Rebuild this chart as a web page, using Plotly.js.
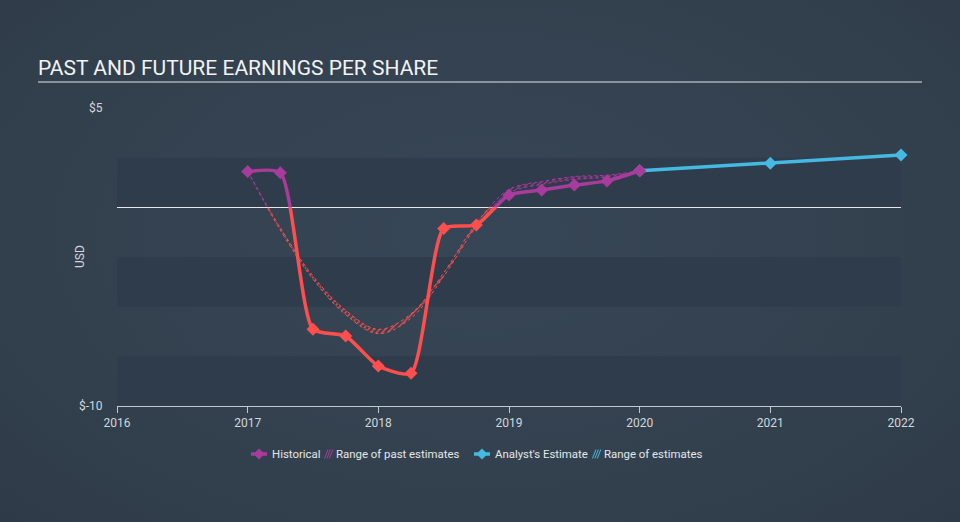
<!DOCTYPE html>
<html>
<head>
<meta charset="utf-8">
<script src="https://cdn.plot.ly/plotly-3.0.1.min.js"></script>
<style>
    html, body { margin: 0; padding: 0; }
    body {
        width: 960px; height: 522px; overflow: hidden;
        background: radial-gradient(ellipse at 50% 45%, #374656 0%, #33414f 60%, #2e3a47 100%);
    }
    #chart { width: 960px; height: 522px; }
</style>
</head>
<body>
<div id="chart"></div>
<script>
// earnings per share, quarterly history (USD)
const hist_x = [2017, 2017.25, 2017.5, 2017.75, 2018, 2018.25, 2018.5, 2018.75, 2019, 2019.25, 2019.5, 2019.75, 2020];
const hist_y = [1.80, 1.74, -6.14, -6.48, -7.99, -8.35, -1.06, -0.89, 0.62, 0.87, 1.12, 1.33, 1.84];

// range of past analyst estimates (low / high)
const past_est_x    = [2017, 2017.25, 2017.5, 2017.75, 2018, 2018.25, 2018.5, 2018.75, 2019, 2019.25, 2019.5, 2019.75, 2020];
const past_est_low  = [1.80, -1.15, -3.62, -5.40, -6.36, -5.58, -3.48, -0.98, 0.72, 1.15, 1.40, 1.52, 1.80];
const past_est_high = [1.83, -1.03, -3.46, -5.18, -6.14, -5.36, -3.30, -0.80, 0.90, 1.30, 1.55, 1.62, 1.84];

// analyst estimate going forward
const fc_x    = [2020, 2021, 2022];
const fc_y    = [1.84, 2.22, 2.63];
const fc_low  = [1.84, 2.22, 2.63];
const fc_high = [1.84, 2.22, 2.63];

const years      = [2016, 2017, 2018, 2019, 2020, 2021, 2022];
const year_ticks = ["2016", "2017", "2018", "2019", "2020", "2021", "2022"];
const y_ticks    = [5, -10];
const y_labels   = ["$5", "$-10"];

const legend_labels = ["Historical", "Range of past estimates", "Analyst's Estimate", "Range of estimates"];

const COL = {
    purple: "#a93b9c",
    red: "#ff4e4e",
    blue: "#45b9e2",
    band: "#2f3c4b",
    text: "#d3d7dc",
};

const Y_MIN = -10, Y_MAX = 5;
const ZERO = (0 - Y_MIN) / (Y_MAX - Y_MIN); // zero position inside the plot

let traces = [];

// past estimate band, split at zero: y2 = positive half, y3 = negative half
function add_past_range(axis, color){
    traces.push({
        type: "scatter", mode: "lines", x: past_est_x, y: past_est_low, yaxis: axis,
        line: { color: color, width: 1, dash: "dot", shape: "spline", smoothing: 1 },
        hoverinfo: "skip",
    });
    traces.push({
        type: "scatter", mode: "lines", x: past_est_x, y: past_est_high, yaxis: axis,
        line: { color: color, width: 1, dash: "dot", shape: "spline", smoothing: 1 },
        fill: "tonexty", fillcolor: "rgba(0,0,0,0)",
        fillpattern: { shape: "/", fgcolor: color, size: 4, solidity: 0.3 },
        hoverinfo: "skip",
    });
}

function add_history(axis, color){
    traces.push({
        type: "scatter", mode: "lines+markers", x: hist_x, y: hist_y, yaxis: axis,
        line: { color: color, width: 3.5, shape: "spline", smoothing: 0.6 },
        marker: { color: color, symbol: "diamond", size: 10 },
    });
}

add_past_range("y3", COL.red);
add_past_range("y2", COL.purple);
add_history("y3", COL.red);
add_history("y2", COL.purple);

traces.push({
    type: "scatter", mode: "lines", x: fc_x, y: fc_low,
    line: { color: COL.blue, width: 1, dash: "dot" }, hoverinfo: "skip",
});
traces.push({
    type: "scatter", mode: "lines", x: fc_x, y: fc_high,
    line: { color: COL.blue, width: 1, dash: "dot" },
    fill: "tonexty", fillcolor: "rgba(0,0,0,0)",
    fillpattern: { shape: "/", fgcolor: COL.blue, size: 4, solidity: 0.3 },
    hoverinfo: "skip",
});
traces.push({
    type: "scatter", mode: "lines+markers", x: fc_x, y: fc_y,
    line: { color: COL.blue, width: 3.5 },
    marker: { color: COL.blue, symbol: "diamond", size: 10 },
    cliponaxis: false,
});

// plot area in pixels (for shapes placed outside of it)
const L = 117, R = 59, T = 108, B = 116, W = 960, H = 522;
const PW = W - L - R, PH = H - T - B;
const px = (p) => (p - L) / PW;
const py = (p) => (H - B - p) / PH;

let shapes = [];
for(const b of [[0, 2.5], [-5, -2.5], [-10, -7.5]]){
    shapes.push({
        type: "rect", xref: "x", yref: "y", x0: 2016, x1: 2022, y0: b[0], y1: b[1],
        fillcolor: COL.band, line: { width: 0 }, layer: "below",
    });
}
shapes.push({
    type: "line", xref: "paper", yref: "paper", x0: px(38), x1: px(922), y0: py(82), y1: py(82),
    line: { color: "#a9afb6", width: 1.5 },
});

let annotations = [{
    text: "USD", textangle: -90, showarrow: false,
    xref: "paper", yref: "paper", x: px(80), y: 0.5, xanchor: "center", yanchor: "middle",
    font: { size: 12, color: COL.text },
}];

// hand made legend, so the icons stay as short as in the original
const LEG_Y = 454;

function legend_marker(x0, x1, color){
    const cx = (x0 + x1) / 2;
    shapes.push({
        type: "line", xref: "paper", yref: "paper", x0: px(x0), x1: px(x1), y0: py(LEG_Y), y1: py(LEG_Y),
        line: { color: color, width: 3.5 },
    });
    const d = "M" + px(cx - 5.5) + "," + py(LEG_Y) + " L" + px(cx) + "," + py(LEG_Y - 5.5) +
              " L" + px(cx + 5.5) + "," + py(LEG_Y) + " L" + px(cx) + "," + py(LEG_Y + 5.5) + " Z";
    shapes.push({ type: "path", xref: "paper", yref: "paper", path: d, fillcolor: color, line: { width: 0 } });
}

function legend_hatch(x0, color){
    for(let i = 0; i < 3; i++){
        const a = x0 + i * 2.4;
        shapes.push({
            type: "line", xref: "paper", yref: "paper",
            x0: px(a), x1: px(a + 3.5), y0: py(LEG_Y + 4.5), y1: py(LEG_Y - 4.5),
            line: { color: color, width: 1 },
        });
    }
}

function legend_text(x, text){
    annotations.push({
        text: text, showarrow: false, xref: "paper", yref: "paper",
        x: px(x), y: py(LEG_Y), xanchor: "left", yanchor: "middle",
        font: { size: 11.4, color: "#e4e7ea" },
    });
}

legend_marker(251, 267, COL.purple);
legend_text(270, legend_labels[0]);
legend_hatch(324.5, COL.purple);
legend_text(334, legend_labels[1]);
legend_marker(474, 490, COL.blue);
legend_text(493, legend_labels[2]);
legend_hatch(592.5, COL.blue);
legend_text(602, legend_labels[3]);

const hidden_axis = { visible: false, showgrid: false, zeroline: false, fixedrange: true, anchor: "x" };

const layout = {
    width: W, height: H,
    margin: { l: L, r: R, t: T, b: B, pad: 0 },
    paper_bgcolor: "rgba(0,0,0,0)",
    plot_bgcolor: "rgba(0,0,0,0)",
    font: { family: "Roboto, 'Open Sans', sans-serif", color: COL.text, size: 12 },
    title: {
        text: "PAST AND FUTURE EARNINGS PER SHARE",
        font: { family: "Roboto", size: 21, color: "#f1f3f5" },
        x: 38 / W, xref: "container", xanchor: "left",
        y: 1 - 68 / H, yref: "container", yanchor: "middle",
    },
    xaxis: {
        range: [2016, 2022], tickvals: years, ticktext: year_ticks,
        showgrid: false, zeroline: false, showline: true, linecolor: "#c3c8ce", linewidth: 1,
        ticks: "outside", ticklen: 6, tickcolor: "#c3c8ce",
        tickfont: { size: 12, color: COL.text }, fixedrange: true,
    },
    yaxis: {
        range: [Y_MIN, Y_MAX], tickvals: y_ticks, ticktext: y_labels,
        showgrid: false, zeroline: true, zerolinecolor: "#e6e8ea", zerolinewidth: 1,
        showline: false, ticks: "outside", ticklen: 11, tickcolor: "rgba(0,0,0,0)",
        tickfont: { size: 12, color: COL.text }, fixedrange: true,
    },
    yaxis2: Object.assign({ domain: [ZERO, 1], range: [0, Y_MAX] }, hidden_axis),
    yaxis3: Object.assign({ domain: [0, ZERO], range: [Y_MIN, 0] }, hidden_axis),
    shapes: shapes,
    annotations: annotations,
    showlegend: false,
    hovermode: false,
};

Plotly.newPlot("chart", traces, layout, { displayModeBar: false, staticPlot: true });
</script>
</body>
</html>
